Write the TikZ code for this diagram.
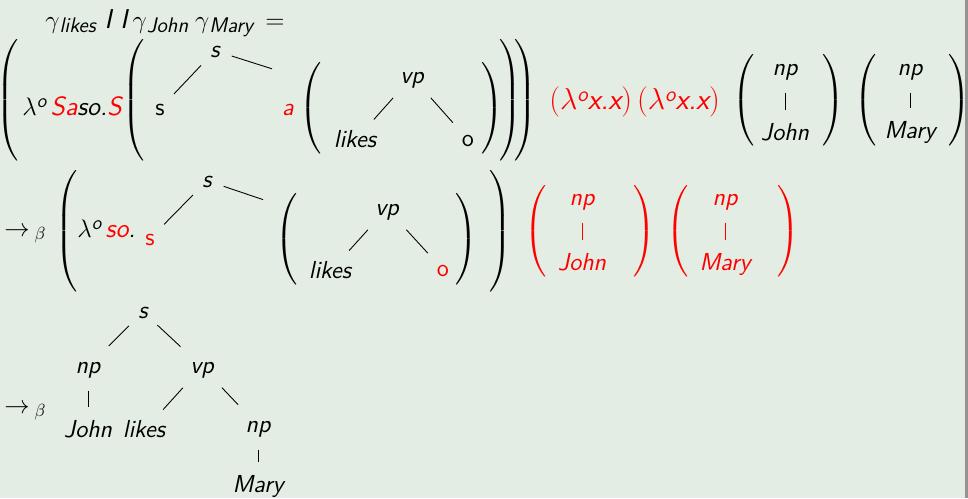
\documentclass[tikz,border=0pt]{standalone}
\usepackage{amsmath}
\usepackage{xcolor}
\usepackage{tikz}
\renewcommand\familydefault{\sfdefault}
\definecolor{slidebg}{RGB}{227,237,228}
\newcommand\lpar[1]{$\left(\vcenter{\hbox{\rule{0pt}{#1}}}\right.$}
\newcommand\rpar[1]{$\left.\vcenter{\hbox{\rule{0pt}{#1}}}\right)$}
\newcommand\lamo[1][10]{$\lambda$\raisebox{.6ex}{\fontsize{#1}{#1}\selectfont o}}
\newcommand\gsub[1]{$\gamma$\raisebox{-.4ex}{\fontsize{12}{14}\selectfont\itshape #1}}
\newcommand\sz{\fontsize{14}{17}\selectfont}

\begin{document}
\begin{tikzpicture}[x=0.02cm,y=-0.02cm,
  w/.style={font=\sz\itshape,anchor=base,inner sep=1pt,text height=10pt,text depth=2.8pt},
  u/.style={w,font=\sz\upshape},
  b/.style={inner sep=0pt,font=\sz},
  t/.style={font=\sz\itshape,anchor=base west,inner sep=0pt},
  e/.style={line width=0.5pt,shorten <=0.21cm,shorten >=0.21cm}
]
\fill[slidebg] (0,0) rectangle (968,498);
\fill[gray!85] (965,0) rectangle (968,498);
\useasboundingbox (0,0) rectangle (968,498);
% head line
\node[t,font=\fontsize{15.5}{18}\selectfont\itshape] (head) at (45,28)
  {\gsub{likes}\hspace{5pt}I\hspace{5pt}I\hspace{3pt}\gsub{John}\hspace{4pt}\gsub{Mary}\hspace{7pt}$=$};
% first row
\node[b] (p1) at (8.5,100) {\lpar{2.5cm}};
\node[t,font=\fontsize{15}{18}\selectfont\itshape] (lam1) at (22,115) {\lamo[11]\,\textcolor{red}{Sa}so.\textcolor{red}{S}};
\node[b] (p2) at (135,100) {\lpar{2.5cm}};
\node[w] (s1) at (215,57) {s};
\node[u] (s1l) at (160,115) {s};
\node[w,red] (a1) at (288,115) {a};
\coordinate (r1) at (282,72);
\node[b] (p3) at (312,108) {\lpar{1.9cm}};
\node[w] (vp1) at (412,83) {vp};
\node[w] (lk1) at (355,147) {likes};
\node[u] (o1) at (468,146) {o};
\node[b] (p4) at (492,108) {\rpar{1.9cm}};
\node[b] (p5) at (510,100) {\rpar{2.5cm}};
\node[b] (p6) at (525,100) {\rpar{2.5cm}};
\node[t,red,font=\fontsize{17}{20}\selectfont\itshape] (id1) at (549,109)
  {$($\lamo[12]x.x$)$\,$($\lamo[12]x.x$)$};
\node[b] (p7) at (745,100) {\lpar{1.9cm}};
\node[w] (np1) at (785,75) {np};
\node[w] (jo1) at (785,140) {John};
\node[b] (p8) at (833,100) {\rpar{1.9cm}};
\node[b] (p9) at (867,100) {\lpar{1.9cm}};
\node[w] (np2) at (910,75) {np};
\node[w] (ma2) at (910,138) {Mary};
\node[b] (p10) at (959,100) {\rpar{1.9cm}};
\draw[e](s1)--(s1l);\draw[e](s1)--(r1);
\draw[e](vp1)--(lk1);\draw[e](vp1)--(o1);
\draw[e](np1)--(jo1);\draw[e](np2)--(ma2);
% second row
\node[t,font=\fontsize{14}{17}\selectfont] (ar2) at (4,236) {$\rightarrow_{\;\beta}$};
\node[b] (q1) at (67.5,231) {\lpar{2.56cm}};
\node[t,font=\fontsize{15}{18}\selectfont\itshape] (lam2) at (77,237) {\lamo[11]\,\textcolor{red}{so}.};
\node[u,red] (s2l) at (150,245) {s};
\node[w] (s2) at (207,187) {s};
\coordinate (r2) at (273,203);
\node[b] (q2) at (288,239) {\lpar{1.9cm}};
\node[w] (vp2) at (387,215) {vp};
\node[w] (lk2) at (330,278) {likes};
\node[u,red] (o2) at (443,276) {o};
\node[b] (q3) at (466,239) {\rpar{1.9cm}};
\node[b] (q4) at (500,231) {\rpar{2.56cm}};
\node[b,red] (q5) at (537,231) {\lpar{1.9cm}};
\node[w,red] (np3) at (582,205) {np};
\node[w,red] (jo3) at (582,270) {John};
\node[b,red] (q6) at (644,231) {\rpar{1.9cm}};
\node[b,red] (q7) at (679,231) {\lpar{1.9cm}};
\node[w,red] (np4) at (725,205) {np};
\node[w,red] (ma4) at (725,270) {Mary};
\node[b,red] (q8) at (788,231) {\rpar{1.9cm}};
\draw[e](s2)--(s2l);\draw[e](s2)--(r2);
\draw[e](vp2)--(lk2);\draw[e](vp2)--(o2);
\draw[e,red](np3)--(jo3);\draw[e,red](np4)--(ma4);
% third row
\node[t,font=\fontsize{14}{17}\selectfont] (ar3) at (4,413) {$\rightarrow_{\;\beta}$};
\node[w] (s5) at (143,318) {s};
\node[w] (np5) at (88,373) {np};
\node[w] (vp5) at (202,373) {vp};
\node[w] (jo5) at (88,437) {John};
\node[w] (lk5) at (144,437) {likes};
\node[w] (np6) at (258,432) {np};
\node[w] (ma6) at (258,492) {Mary};
\draw[e](s5)--(np5);\draw[e](s5)--(vp5);
\draw[e](np5)--(jo5);\draw[e](vp5)--(lk5);
\draw[e](vp5)--(np6);\draw[e](np6)--(ma6);
\end{tikzpicture}
\end{document}
